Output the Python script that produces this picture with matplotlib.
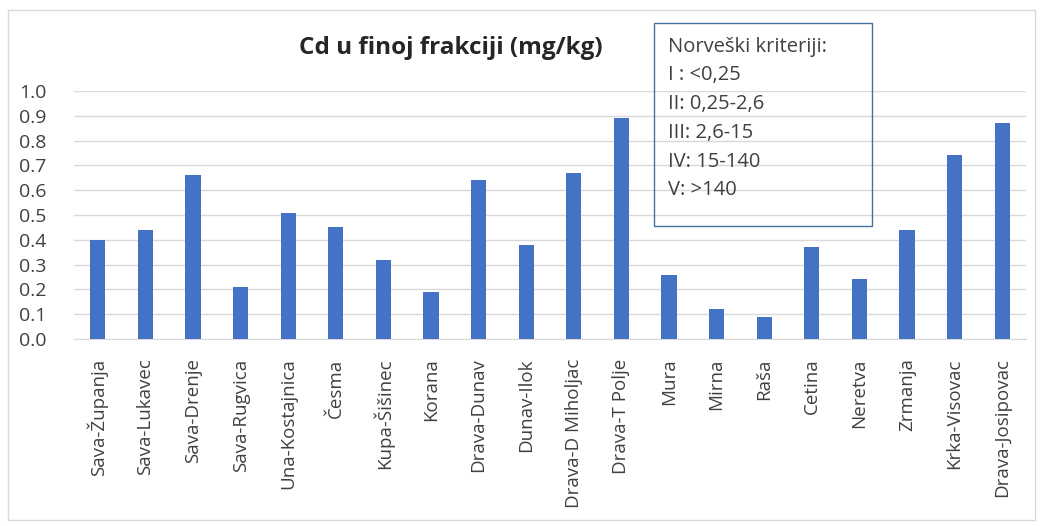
"""Cd u finoj frakciji - bar chart with Norwegian criteria note."""
import matplotlib
matplotlib.use("Agg")
import matplotlib.pyplot as plt
from matplotlib.patches import Rectangle

sites = ["Sava-Županja", "Sava-Lukavec", "Sava-Drenje", "Sava-Rugvica",
         "Una-Kostajnica", "Česma", "Kupa-Šišinec", "Korana", "Drava-Dunav",
         "Dunav-Ilok", "Drava-D Miholjac", "Drava-T Polje", "Mura", "Mirna",
         "Raša", "Cetina", "Neretva", "Zrmanja", "Krka-Visovac", "Drava-Josipovac"]
cd = [0.40, 0.44, 0.66, 0.21, 0.51, 0.45, 0.32, 0.19, 0.64, 0.38,
      0.67, 0.89, 0.26, 0.12, 0.09, 0.37, 0.24, 0.44, 0.74, 0.87]
yticks = [0.0, 0.1, 0.2, 0.3, 0.4, 0.5, 0.6, 0.7, 0.8, 0.9, 1.0]
note = ["Norveški kriteriji:", "I : <0,25", "II: 0,25-2,6", "III: 2,6-15",
        "IV: 15-140", "V: >140"]

BAR = "#4472C4"; INK = "#404040"; GRID = "#D9D9D9"
plt.rcParams["font.family"] = ["Open Sans", "DejaVu Sans"]

W, H = 1041, 526
fig = plt.figure(figsize=(W / 100, H / 100), dpi=100)
fig.patches.append(Rectangle((8 / W, 1 - 520 / H), 1027 / W, 510 / H,
                             transform=fig.transFigure, fill=False,
                             ec=GRID, lw=1))

ax = fig.add_axes([74 / W, 1 - 339 / H, 952 / W, 248 / H])
x = range(len(sites))
ax.bar(x, cd, width=0.32, color=BAR, zorder=3)
ax.set_xlim(-0.5, len(sites) - 0.5)
ax.set_ylim(0, 1.0)
ax.set_yticks(yticks)
ax.set_yticklabels([f"{v:.1f}" for v in yticks], fontsize=14, color=INK)
ax.set_xticks(list(x))
ax.set_xticklabels(sites, rotation=90, fontsize=13.5, color=INK)
ax.tick_params(length=0)
ax.tick_params(axis="x", pad=14)
ax.tick_params(axis="y", pad=20)
ax.grid(axis="y", color=GRID, lw=1, zorder=0)
for s in ["top", "right", "left"]:
    ax.spines[s].set_visible(False)
ax.spines["bottom"].set_color(GRID)

fig.text(451 / W, 1 - 48 / H, "Cd u finoj frakciji (mg/kg)", ha="center",
         va="center", fontsize=17.5, fontweight="bold", color="#262626")

fig.patches.append(Rectangle((654 / W, 1 - 226 / H), 218 / W, 203 / H,
                             transform=fig.transFigure, fill=False,
                             ec="#41719C", lw=1, zorder=5))
line_y = [47, 75, 104, 133, 162, 190]
for s, yy in zip(note, line_y):
    fig.text(668 / W, 1 - yy / H, s, ha="left", va="center",
             fontsize=14.5, color=INK)

plt.savefig("out.png", dpi=100)
